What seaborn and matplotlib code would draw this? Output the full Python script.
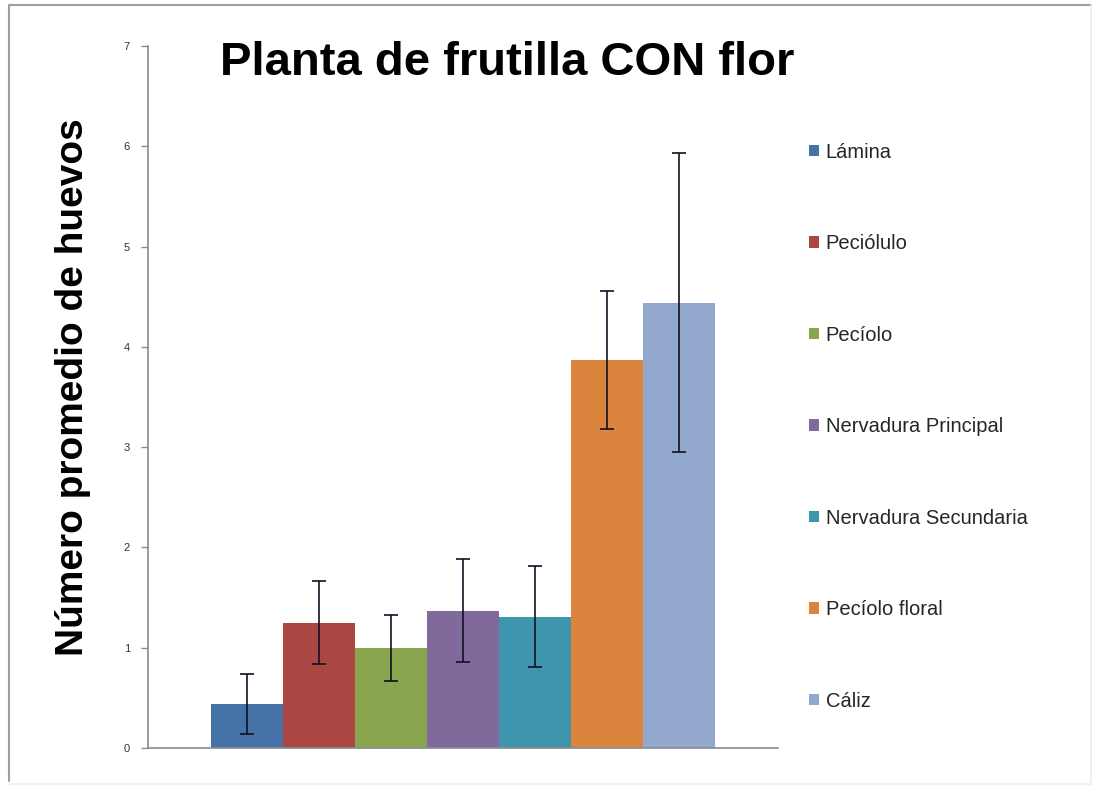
import pandas as pd
import seaborn as sns
import matplotlib.pyplot as plt
from matplotlib.lines import Line2D

# === datos ===
partes = ["Lámina", "Peciólulo", "Pecíolo", "Nervadura Principal",
          "Nervadura Secundaria", "Pecíolo floral", "Cáliz"]
promedio = [0.44, 1.25, 1.00, 1.37, 1.31, 3.87, 4.44]
error = [0.30, 0.41, 0.33, 0.51, 0.50, 0.69, 1.49]
colores = ["#4572A7", "#AA4643", "#89A54E", "#80699B", "#3D96AE", "#DB843D", "#92A8CD"]
yticks = [0, 1, 2, 3, 4, 5, 6, 7]

df = pd.DataFrame({"grupo": ["CON flor"] * len(partes), "parte": partes, "huevos": promedio})

sns.set_style("white")
plt.rcParams["font.family"] = ["Liberation Sans", "DejaVu Sans"]

fig = plt.figure(figsize=(10.93, 7.89), dpi=100)
ax = fig.add_axes([0.1354, 0.052, 0.576, 0.8898])

sns.barplot(data=df, x="grupo", y="huevos", hue="parte", hue_order=partes,
            palette=colores, width=0.8, gap=0, saturation=1, errorbar=None,
            linewidth=0, ax=ax)

# barras de error en el centro de cada barra
for cont, e in zip(ax.containers, error):
    for b in cont:
        ax.errorbar(b.get_x() + b.get_width() / 2, b.get_height(), yerr=e,
                    fmt="none", ecolor="#111122", elinewidth=1.2, capsize=5, capthick=1.2)

ax.set_ylim(0, 7)
ax.set_xlim(-0.5, 0.5)
ax.set_yticks(yticks)
ax.set_yticklabels([str(t) for t in yticks], fontsize=8, color="#333333")
ax.set_xticks([])
ax.set_xlabel("")
ax.set_ylabel("")
ax.tick_params(axis="y", which="major", direction="out", length=5, width=1,
               color="#8a8a8a", pad=8, left=True)
sns.despine(ax=ax, top=True, right=True)
for s in ["left", "bottom"]:
    ax.spines[s].set_color("#8a8a8a")
    ax.spines[s].set_linewidth(1.2)

fig.text(0.464, 0.920, "Planta de frutilla CON flor", ha="center", va="center",
         fontsize=34, fontweight="bold", color="black")
fig.text(0.067, 0.509, "Número promedio de huevos", rotation=90, ha="center", va="center",
         fontsize=28, fontweight="bold", color="black")

handles, labels = ax.get_legend_handles_labels()
ax.legend(handles, labels, loc="center left", bbox_to_anchor=(0.7325, 0.459),
          bbox_transform=fig.transFigure, frameon=False, fontsize=14.5,
          handlelength=0.5, handleheight=0.5, handletextpad=0.35,
          labelspacing=3.6, borderaxespad=0)

# marco exterior del gráfico
fig.lines.append(Line2D([0.008, 0.008, 0.998], [0.01, 0.994, 0.994], transform=fig.transFigure,
                        color="#a0a0a0", linewidth=1.5))
fig.lines.append(Line2D([0.008, 0.998, 0.998], [0.006, 0.006, 0.994], transform=fig.transFigure,
                        color="#eeeeee", linewidth=1.2))

fig.savefig("out.png", dpi=100)
